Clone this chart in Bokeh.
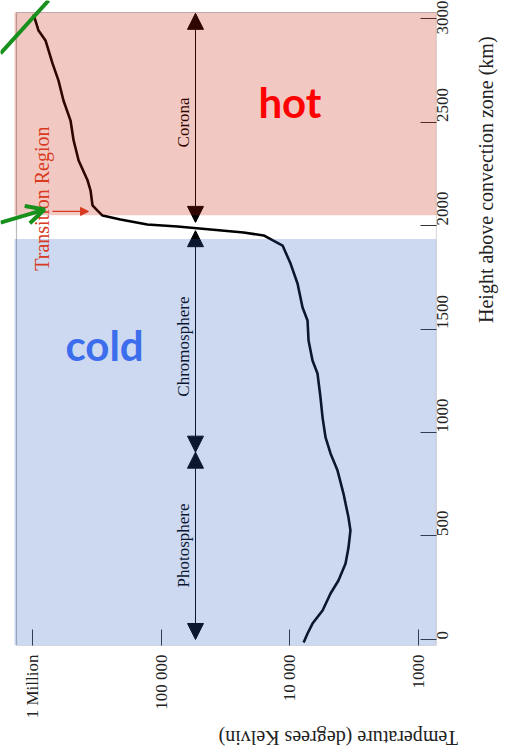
import math
from bokeh.plotting import figure
from bokeh.models import (Range1d, FixedTicker, Arrow, NormalHead, OpenHead,
                          Label, BoxAnnotation, ColumnDataSource, LogAxis)
from bokeh.embed import file_html
from bokeh.resources import INLINE

# ---------------- data ----------------
height_km = [3020, 2942, 2894, 2783, 2700, 2604, 2507, 2411, 2314, 2217, 2169,
             2097, 2072, 2048, 2029, 2005, 1995, 1981, 1966, 1952, 1903, 1816,
             1720, 1604, 1541, 1444, 1348, 1285, 1169, 1072, 976, 899, 816,
             705, 589, 527, 444, 367, 285, 222, 140, 77, 29, -15]
temperature_k = [979000, 895000, 790000, 697000, 626000, 573000, 505000, 478000,
                 437000, 372000, 353000, 341000, 312000, 285000, 207000, 128000,
                 74600, 41300, 22900, 16000, 11400, 9890, 8730, 7980, 7300, 7170,
                 6680, 6110, 5790, 5580, 5290, 4840, 4270, 3840, 3510, 3390, 3510,
                 3700, 4200, 4840, 5580, 6680, 7300, 7830]

temp_ticks = [1000, 10000, 100000, 1000000]
temp_tick_labels = ["1000", "10 000", "100 000", "1 Million"]
height_ticks = [0, 500, 1000, 1500, 2000, 2500, 3000]

region_names = ["Corona", "Chromosphere", "Photosphere"]
region_bottom_km = [2015, 905, 0]
region_top_km = [3025, 1975, 905]
region_label_km = [2498, 1415, 454]
region_arrow_temp = 54100
region_label_temp = 67000

hot_zone_bottom_km = 2050
cold_zone_top_km = 1935
zone_left_temp = 1.375e6

transition_label = "Transition Region"
transition_label_pos = (834000, 2130)
transition_arrow = (697000, 366000, 2068)

hot_label_pos = (10000, 2599)
cold_label_pos = (275000, 1425)

green_line = (1.766e6, 2831, 748000, 3087)
green_arrow = (1.766e6, 2014, 804000, 2077)

# chart box (temperature axis reversed: hot on the left)
box_temp_hot, box_temp_cold = 1.327e6, 728
box_height_min, box_height_max = -29, 3029
# visible canvas area around the box (room for the annotation arrows)
view_temp_hot = 1.766e6
view_height_max = 3087

SERIF = "Liberation Serif"

# ---------------- figure ----------------
p = figure(frame_width=436, frame_height=645, x_axis_type="log",
           x_range=Range1d(view_temp_hot, box_temp_cold),
           y_range=Range1d(box_height_min, view_height_max),
           y_axis_location="right", output_backend="svg",
           toolbar_location=None, min_border_left=0, min_border_top=0,
           min_border_right=5, min_border_bottom=5)
p.xgrid.visible = False
p.ygrid.visible = False
p.outline_line_color = None

# chart box
p.add_layout(BoxAnnotation(left=box_temp_hot, right=box_temp_cold,
                           bottom=box_height_min, top=box_height_max,
                           fill_alpha=0, line_color="#1e1e1e", line_width=1.2))

# temperature profile
src = ColumnDataSource(dict(t=temperature_k, h=height_km))
p.line("t", "h", source=src, line_color="black", line_width=2.6)

# region arrows and labels
for name, b, t, lk in zip(region_names, region_bottom_km, region_top_km, region_label_km):
    p.add_layout(Arrow(start=NormalHead(size=16, fill_color="black", line_color="black"),
                       end=NormalHead(size=16, fill_color="black", line_color="black"),
                       x_start=region_arrow_temp, y_start=b,
                       x_end=region_arrow_temp, y_end=t,
                       line_color="black", line_width=1))
    p.add_layout(Label(x=region_label_temp, y=lk, text=name, angle=math.pi / 2,
                       text_align="center", text_baseline="middle",
                       text_font=SERIF, text_font_size="17px", text_color="black"))

# translucent overlays
p.add_layout(BoxAnnotation(left=zone_left_temp, bottom=hot_zone_bottom_km,
                           top=box_height_max, fill_color=(197, 30, 1),
                           fill_alpha=0.24, line_color=None, level="overlay"))
p.add_layout(BoxAnnotation(left=zone_left_temp, top=cold_zone_top_km,
                           fill_color=(47, 97, 192),
                           fill_alpha=0.24, line_color=None, level="overlay"))

# transition region
red = "#d83a22"
p.add_layout(Label(x=transition_label_pos[0], y=transition_label_pos[1],
                   text=transition_label, angle=math.pi / 2, text_align="center",
                   text_baseline="middle", text_font=SERIF, text_font_size="20px",
                   text_color=red, level="overlay"))
p.add_layout(Arrow(end=NormalHead(size=8, fill_color=red, line_color=red),
                   x_start=transition_arrow[0], y_start=transition_arrow[2],
                   x_end=transition_arrow[1], y_end=transition_arrow[2],
                   line_color=red, line_width=1.2, level="overlay"))

# hot / cold
p.add_layout(Label(x=hot_label_pos[0], y=hot_label_pos[1], text="hot",
                   text_align="center", text_baseline="alphabetic",
                   text_font="Lato", text_font_style="bold", text_font_size="42px",
                   text_color="#ff0000", level="overlay"))
p.add_layout(Label(x=cold_label_pos[0], y=cold_label_pos[1], text="cold",
                   text_align="center", text_baseline="alphabetic",
                   text_font="Lato", text_font_style="bold", text_font_size="42px",
                   text_color="#3c6ded", level="overlay"))

# green arrows
green = "#17901c"
p.add_layout(Arrow(end=None, x_start=green_line[0], y_start=green_line[1],
                   x_end=green_line[2], y_end=green_line[3],
                   line_color=green, line_width=4, level="overlay"))
p.add_layout(Arrow(end=OpenHead(size=18, line_color=green, line_width=4),
                   x_start=green_arrow[0], y_start=green_arrow[1],
                   x_end=green_arrow[2], y_end=green_arrow[3],
                   line_color=green, line_width=4, level="overlay"))

# ---------------- axes ----------------
xa = p.xaxis[0]
xa.ticker = FixedTicker(ticks=temp_ticks)
xa.major_label_overrides = {float(k): v for k, v in zip(temp_ticks, temp_tick_labels)}
xa.major_label_orientation = math.pi / 2
xa.major_tick_in = 16
xa.major_tick_out = 0
xa.minor_tick_in = 0
xa.minor_tick_out = 0
xa.axis_line_color = None
xa.major_tick_line_color = "#333333"
xa.major_label_standoff = 9
xa.major_label_text_font = SERIF
xa.major_label_text_font_size = "17px"
xa.major_label_text_color = "#222222"
xa.axis_label = "Temperature (degrees Kelvin)"
xa.axis_label_text_font = SERIF
xa.axis_label_text_font_size = "20px"
xa.axis_label_text_font_style = "normal"
xa.axis_label_text_color = "#222222"
xa.axis_label_standoff = 17

ya = p.yaxis[0]
ya.ticker = FixedTicker(ticks=height_ticks)
ya.major_label_orientation = math.pi / 2
ya.major_tick_in = 16
ya.major_tick_out = 0
ya.minor_tick_in = 0
ya.minor_tick_out = 0
ya.axis_line_color = None
ya.major_tick_line_color = "#333333"
ya.major_label_standoff = 6
ya.major_label_text_font = SERIF
ya.major_label_text_font_size = "17px"
ya.major_label_text_color = "#222222"
ya.axis_label = "Height above convection zone (km)"
ya.axis_label_text_font = SERIF
ya.axis_label_text_font_size = "20px"
ya.axis_label_text_font_style = "normal"
ya.axis_label_text_color = "#222222"
ya.axis_label_standoff = 29

if "axis_label_orientation" in LogAxis.properties():
    xa.axis_label_orientation = math.pi
    ya.axis_label_orientation = math.pi / 2

open("out.html", "w").write(file_html(p, INLINE))
